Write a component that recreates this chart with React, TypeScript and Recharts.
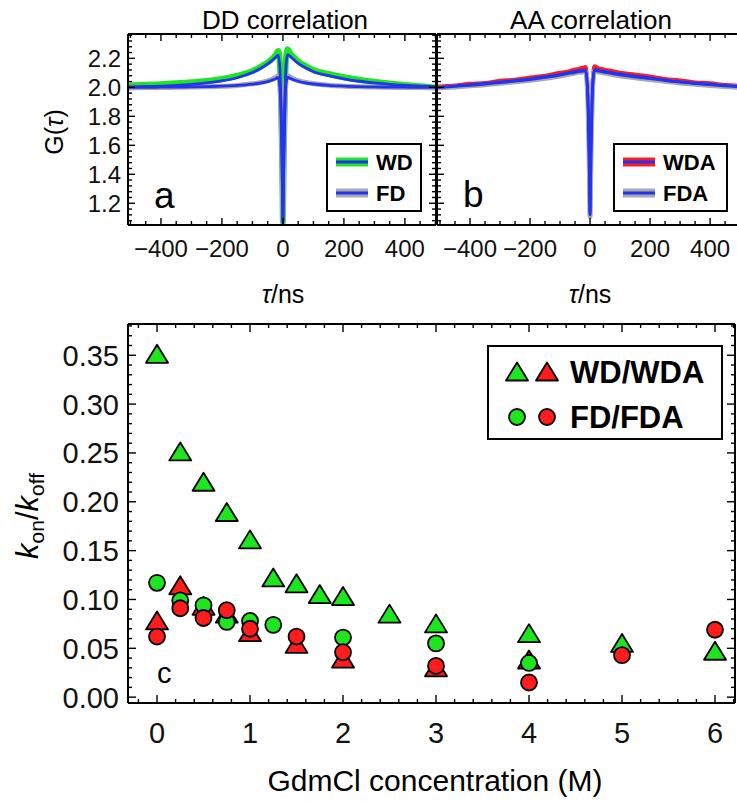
import React from 'react';
import { LineChart, Line, XAxis, YAxis, ScatterChart, Scatter } from 'recharts';

const FONT = '"Liberation Sans", Arial, Helvetica, sans-serif';

// lag time (ns) grid the correlation traces are read at
const tau = [-510, -450, -400, -350, -300, -250, -200, -150, -100, -75, -50, -35, -25, -15, -10, -6, -3, -1, 0, 1, 3, 6, 10, 15, 25, 35, 50, 75, 100, 150, 200, 250, 300, 350, 400, 450, 510];

// panel a, DD correlation
const wdData = [2.012, 2.018, 2.022, 2.028, 2.035, 2.044, 2.058, 2.08, 2.112, 2.14, 2.172, 2.196, 2.22, 2.25, 2.16, 1.9, 1.56, 1.23, 1.07, 1.23, 1.56, 1.9, 2.2, 2.262, 2.232, 2.21, 2.18, 2.148, 2.12, 2.092, 2.07, 2.052, 2.038, 2.026, 2.016, 2.008, 1.998];
const wdFit = [2.003, 2.006, 2.009, 2.014, 2.021, 2.031, 2.045, 2.066, 2.102, 2.128, 2.162, 2.186, 2.205, 2.222, 2.13, 1.88, 1.55, 1.22, 1.06, 1.22, 1.55, 1.88, 2.14, 2.226, 2.212, 2.192, 2.166, 2.133, 2.108, 2.08, 2.058, 2.042, 2.03, 2.02, 2.013, 2.008, 2.004];
const fdData = [1.996, 1.998, 1.999, 2.0, 2.002, 2.004, 2.007, 2.013, 2.024, 2.032, 2.045, 2.056, 2.066, 2.08, 2.02, 1.82, 1.52, 1.21, 1.07, 1.21, 1.52, 1.82, 2.04, 2.082, 2.07, 2.058, 2.046, 2.033, 2.025, 2.014, 2.008, 2.004, 2.002, 2.0, 1.999, 1.998, 1.997];
const fdFit = [2.0, 2.0, 2.001, 2.002, 2.003, 2.005, 2.008, 2.013, 2.022, 2.029, 2.04, 2.05, 2.058, 2.068, 2.0, 1.8, 1.5, 1.2, 1.06, 1.2, 1.5, 1.8, 2.02, 2.07, 2.06, 2.052, 2.042, 2.03, 2.023, 2.014, 2.009, 2.005, 2.003, 2.002, 2.001, 2.0, 2.0];

// panel b, AA correlation
const wdaData = [2.005, 2.012, 2.024, 2.03, 2.045, 2.052, 2.068, 2.08, 2.1, 2.108, 2.124, 2.128, 2.135, 2.14, 2.06, 1.86, 1.56, 1.27, 1.13, 1.27, 1.56, 1.86, 2.08, 2.145, 2.135, 2.128, 2.12, 2.112, 2.1, 2.088, 2.075, 2.058, 2.048, 2.034, 2.028, 2.016, 2.01];
const wdaFit = [2.0, 2.01, 2.018, 2.027, 2.037, 2.048, 2.059, 2.073, 2.09, 2.1, 2.11, 2.115, 2.118, 2.12, 2.05, 1.85, 1.55, 1.26, 1.12, 1.26, 1.55, 1.85, 2.06, 2.124, 2.12, 2.116, 2.11, 2.1, 2.092, 2.078, 2.066, 2.052, 2.04, 2.03, 2.022, 2.014, 2.006];
const fdaData = [1.995, 2.003, 2.01, 2.018, 2.028, 2.038, 2.049, 2.062, 2.078, 2.088, 2.098, 2.103, 2.106, 2.108, 2.035, 1.83, 1.53, 1.24, 1.11, 1.24, 1.53, 1.83, 2.045, 2.112, 2.108, 2.104, 2.098, 2.088, 2.08, 2.066, 2.054, 2.042, 2.03, 2.021, 2.013, 2.005, 1.998];
const fdaFit = [1.998, 2.007, 2.014, 2.023, 2.033, 2.043, 2.054, 2.068, 2.084, 2.094, 2.104, 2.109, 2.112, 2.114, 2.04, 1.84, 1.54, 1.25, 1.12, 1.25, 1.54, 1.84, 2.05, 2.118, 2.114, 2.11, 2.104, 2.094, 2.086, 2.072, 2.06, 2.047, 2.036, 2.026, 2.018, 2.01, 2.003];

// panel c, kon/koff vs GdmCl (M)
const wdConc = [0, 0.25, 0.5, 0.75, 1, 1.25, 1.5, 1.75, 2, 2.5, 3, 4, 5, 6];
const wdRatio = [0.351, 0.251, 0.22, 0.189, 0.161, 0.122, 0.116, 0.105, 0.103, 0.085, 0.075, 0.065, 0.055, 0.047];
const wdaConc = [0, 0.25, 0.5, 0.75, 1, 1.5, 2, 3, 4];
const wdaRatio = [0.078, 0.114, 0.093, 0.085, 0.066, 0.054, 0.039, 0.03, 0.038];
const fdConc = [0, 0.25, 0.5, 0.75, 1, 1.25, 2, 3, 4];
const fdRatio = [0.117, 0.099, 0.094, 0.077, 0.078, 0.074, 0.061, 0.055, 0.035];
const fdaConc = [0, 0.25, 0.5, 0.75, 1, 1.5, 2, 3, 4, 5, 6];
const fdaRatio = [0.062, 0.091, 0.081, 0.089, 0.07, 0.062, 0.046, 0.032, 0.015, 0.043, 0.069];

// tick labels
const tauLabels = [-400, -200, 0, 200, 400];
const gLabels = [1.2, 1.4, 1.6, 1.8, 2.0, 2.2];
const concLabels = [0, 1, 2, 3, 4, 5, 6];
const ratioLabels = [0, 0.05, 0.1, 0.15, 0.2, 0.25, 0.3, 0.35];

const range = (a: number, b: number, step: number) => {
  const out: number[] = [];
  for (let v = a; v <= b + 1e-9; v += step) out.push(Math.round(v * 10000) / 10000);
  return out;
};

const tauTicks = range(-500, 500, 50);
const gTicks = range(1.08, 2.36, 0.04);
const concTicks = range(-0.2, 6.2, 0.2);
const ratioTicks = range(0, 0.38, 0.01);

const ddRows = tau.map((t, i) => ({ t, wdData: wdData[i], wdFit: wdFit[i], fdData: fdData[i], fdFit: fdFit[i] }));
const aaRows = tau.map((t, i) => ({ t, wdaData: wdaData[i], wdaFit: wdaFit[i], fdaData: fdaData[i], fdaFit: fdaFit[i] }));
const toPts = (xs: number[], ys: number[]) => xs.map((x, i) => ({ x, y: ys[i] }));

const GREEN = '#1ee61e';
const RED = '#ff1c1c';
const BLUE = '#2233f2';
const GRAY = '#a8a8a8';

type Side = 'bottom' | 'top' | 'left' | 'right';

const makeTick = (side: Side, labels: number[], opt: { show?: boolean; fmt?: (v: number) => string; fs?: number; off?: number; big?: number; small?: number }) =>
  (props: any) => {
    const { x, y, payload } = props;
    const v = payload.value as number;
    const major = labels.some((m) => Math.abs(m - v) < 1e-7);
    const len = major ? opt.big ?? 7 : opt.small ?? 4;
    let x2 = x, y2 = y;
    if (side === 'bottom') y2 = y - len;
    if (side === 'top') y2 = y + len;
    if (side === 'left') x2 = x + len;
    if (side === 'right') x2 = x - len;
    const fs = opt.fs ?? 24;
    let label = null;
    if (opt.show && major) {
      const txt = opt.fmt ? opt.fmt(v) : String(v);
      label = side === 'bottom'
        ? <text x={x} y={y + (opt.off ?? 32)} textAnchor="middle" fontSize={fs} fontFamily={FONT} fill="#111">{txt}</text>
        : <text x={x - (opt.off ?? 7)} y={y + fs * 0.36} textAnchor="end" fontSize={fs} fontFamily={FONT} fill="#111">{txt}</text>;
    }
    return (
      <g>
        <line x1={x} y1={y} x2={x2} y2={y2} stroke="#000" strokeWidth={1.4} />
        {label}
      </g>
    );
  };

const tauFmt = (v: number) => (v < 0 ? '\u2212' + Math.abs(v) : String(v));
const axisLine = { stroke: '#000', strokeWidth: 2 };

function Tri({ cx, cy, fill }: { cx: number; cy: number; fill: string }) {
  return <polygon points={`${cx},${cy - 9.5} ${cx - 11},${cy + 8.5} ${cx + 11},${cy + 8.5}`} fill={fill} stroke="#000" strokeWidth={1.8} strokeLinejoin="round" />;
}
function Dot({ cx, cy, fill }: { cx: number; cy: number; fill: string }) {
  return <circle cx={cx} cy={cy} r={8} fill={fill} stroke="#000" strokeWidth={1.8} />;
}

function CorrLegend({ x, y, w, color, names }: { x: number; y: number; w: number; color: string; names: string[] }) {
  const rows = [color, GRAY];
  return (
    <g>
      <rect x={x} y={y} width={w} height={67} fill="#fff" stroke="#000" strokeWidth={2} />
      {rows.map((c, i) => (
        <g key={i}>
          <line x1={x + 9} x2={x + 41} y1={y + 18 + i * 31} y2={y + 18 + i * 31} stroke={c} strokeWidth={9} />
          <line x1={x + 9} x2={x + 41} y1={y + 18 + i * 31} y2={y + 18 + i * 31} stroke={BLUE} strokeWidth={3} />
          <text x={x + 49} y={y + 26 + i * 31} fontSize={22} fontWeight="bold" fontFamily={FONT}>{names[i]}</text>
        </g>
      ))}
    </g>
  );
}

export default function App() {
  return (
    <div style={{ position: 'absolute', left: 0, top: 0, width: 737, height: 801, overflow: 'hidden', background: '#fff', fontFamily: FONT }}>
      <div style={{ position: 'absolute', left: 0, top: 0 }}>
        <LineChart width={460} height={300} data={ddRows} margin={{ top: 30, right: 14, bottom: 45, left: 68 }}>
          <XAxis dataKey="t" type="number" domain={[-508, 502]} allowDataOverflow ticks={tauTicks} interval={0} tickSize={0} tickMargin={0} height={30} axisLine={axisLine} tickLine={false}
            tick={makeTick('bottom', tauLabels, { show: true, fmt: tauFmt, fs: 24, off: 32 })} />
          <XAxis xAxisId="top" orientation="top" dataKey="t" type="number" domain={[-508, 502]} allowDataOverflow ticks={tauTicks} interval={0} tickSize={0} tickMargin={0} height={4} axisLine={axisLine} tickLine={false}
            tick={makeTick('top', tauLabels, {})} />
          <YAxis type="number" domain={[1.05, 2.368]} allowDataOverflow ticks={gTicks} interval={0} tickSize={0} tickMargin={0} width={60} axisLine={axisLine} tickLine={false}
            tick={makeTick('left', gLabels, { show: true, fmt: (v) => v.toFixed(1), fs: 24, off: 7 })} />
          <YAxis yAxisId="r" orientation="right" type="number" domain={[1.05, 2.368]} allowDataOverflow ticks={gTicks} interval={0} tickSize={0} tickMargin={0} width={10} axisLine={axisLine} tickLine={false}
            tick={makeTick('right', gLabels, {})} />
          <Line dataKey="wdData" type="monotone" stroke={GREEN} strokeWidth={6} dot={false} isAnimationActive={false} />
          <Line dataKey="fdData" type="monotone" stroke={GRAY} strokeWidth={5} dot={false} isAnimationActive={false} />
          <Line dataKey="wdFit" type="monotone" stroke={BLUE} strokeWidth={2.8} dot={false} isAnimationActive={false} />
          <Line dataKey="fdFit" type="monotone" stroke={BLUE} strokeWidth={2.8} dot={false} isAnimationActive={false} />
        </LineChart>
      </div>
      <div style={{ position: 'absolute', left: 360, top: 0 }}>
        <LineChart width={420} height={300} data={aaRows} margin={{ top: 30, right: 30, bottom: 45, left: 67 }}>
          <XAxis dataKey="t" type="number" domain={[-510, 533]} allowDataOverflow ticks={tauTicks} interval={0} tickSize={0} tickMargin={0} height={30} axisLine={axisLine} tickLine={false}
            tick={makeTick('bottom', tauLabels, { show: true, fmt: tauFmt, fs: 24, off: 32 })} />
          <XAxis xAxisId="top" orientation="top" dataKey="t" type="number" domain={[-510, 533]} allowDataOverflow ticks={tauTicks} interval={0} tickSize={0} tickMargin={0} height={4} axisLine={axisLine} tickLine={false}
            tick={makeTick('top', tauLabels, {})} />
          <YAxis type="number" domain={[1.05, 2.368]} allowDataOverflow ticks={gTicks} interval={0} tickSize={0} tickMargin={0} width={10} axisLine={axisLine} tickLine={false}
            tick={makeTick('left', gLabels, {})} />
          <Line dataKey="wdaData" type="monotone" stroke={RED} strokeWidth={4} dot={false} isAnimationActive={false} />
          <Line dataKey="fdaData" type="monotone" stroke={GRAY} strokeWidth={5} dot={false} isAnimationActive={false} />
          <Line dataKey="wdaFit" type="monotone" stroke={BLUE} strokeWidth={2.8} dot={false} isAnimationActive={false} />
          <Line dataKey="fdaFit" type="monotone" stroke={BLUE} strokeWidth={2.8} dot={false} isAnimationActive={false} />
        </LineChart>
      </div>
      <div style={{ position: 'absolute', left: 0, top: 290 }}>
        <ScatterChart width={760} height={511} margin={{ top: 30, right: 24, bottom: 58, left: 28 }}>
          <XAxis dataKey="x" type="number" domain={[-0.312, 6.215]} allowDataOverflow ticks={concTicks} interval={0} tickSize={0} tickMargin={0} height={40} axisLine={axisLine} tickLine={false}
            tick={makeTick('bottom', concLabels, { show: true, fs: 29, off: 40, big: 8 })} />
          <XAxis xAxisId="top" orientation="top" dataKey="x" type="number" domain={[-0.312, 6.215]} allowDataOverflow ticks={concTicks} interval={0} tickSize={0} tickMargin={0} height={4} axisLine={axisLine} tickLine={false}
            tick={makeTick('top', concLabels, { big: 8 })} />
          <YAxis dataKey="y" type="number" domain={[-0.006, 0.382]} allowDataOverflow ticks={ratioTicks} interval={0} tickSize={0} tickMargin={0} width={100} axisLine={axisLine} tickLine={false}
            tick={makeTick('left', ratioLabels, { show: true, fmt: (v) => v.toFixed(2), fs: 29, off: 9, big: 8 })} />
          <YAxis yAxisId="r" orientation="right" dataKey="y" type="number" domain={[-0.006, 0.382]} allowDataOverflow ticks={ratioTicks} interval={0} tickSize={0} tickMargin={0} width={1} axisLine={axisLine} tickLine={false}
            tick={makeTick('right', ratioLabels, { big: 8 })} />
          <Scatter name="WD" data={toPts(wdConc, wdRatio)} isAnimationActive={false} shape={(p: any) => <Tri cx={p.cx} cy={p.cy} fill={GREEN} />} />
          <Scatter name="WDA" data={toPts(wdaConc, wdaRatio)} isAnimationActive={false} shape={(p: any) => <Tri cx={p.cx} cy={p.cy} fill={RED} />} />
          <Scatter name="FD" data={toPts(fdConc, fdRatio)} isAnimationActive={false} shape={(p: any) => <Dot cx={p.cx} cy={p.cy} fill={GREEN} />} />
          <Scatter name="FDA" data={toPts(fdaConc, fdaRatio)} isAnimationActive={false} shape={(p: any) => <Dot cx={p.cx} cy={p.cy} fill={RED} />} />
        </ScatterChart>
      </div>
      <svg width={737} height={801} style={{ position: 'absolute', left: 0, top: 0, pointerEvents: 'none' }} fontFamily={FONT}>
        <text x={285} y={29} textAnchor="middle" fontSize={26}>DD correlation</text>
        <text x={591} y={29} textAnchor="middle" fontSize={26}>AA correlation</text>
        <text transform="translate(63,132) rotate(-90)" textAnchor="middle" fontSize={25}>G(<tspan fontStyle="italic">τ</tspan>)</text>
        <text x={283} y={303} textAnchor="middle" fontSize={25}><tspan fontStyle="italic">τ</tspan>/ns</text>
        <text x={590} y={303} textAnchor="middle" fontSize={25}><tspan fontStyle="italic">τ</tspan>/ns</text>
        <text x={154} y={208} fontSize={37}>a</text>
        <text x={463} y={207} fontSize={37}>b</text>
        <text x={157} y={683} fontSize={29}>c</text>
        <CorrLegend x={327} y={144} w={94} color={GREEN} names={['WD', 'FD']} />
        <CorrLegend x={614} y={144} w={113} color={RED} names={['WDA', 'FDA']} />
        <g>
          <rect x={488} y={346} width={234} height={93} fill="#fff" stroke="#000" strokeWidth={2} />
          <Tri cx={517} cy={372} fill={GREEN} />
          <Tri cx={547} cy={372} fill={RED} />
          <Dot cx={517} cy={417} fill={GREEN} />
          <Dot cx={547} cy={417} fill={RED} />
          <text x={570} y={383} fontSize={31} fontWeight="bold">WD/WDA</text>
          <text x={570} y={428} fontSize={31} fontWeight="bold">FD/FDA</text>
        </g>
        <text transform="translate(38,516) rotate(-90)" textAnchor="middle" fontSize={31}>
          <tspan fontStyle="italic">k</tspan><tspan fontSize={21} dy={6}>on</tspan><tspan dy={-6}>/</tspan><tspan fontStyle="italic">k</tspan><tspan fontSize={21} dy={6}>off</tspan>
        </text>
        <text x={435} y={791} textAnchor="middle" fontSize={30}>GdmCl concentration (M)</text>
      </svg>
    </div>
  );
}
